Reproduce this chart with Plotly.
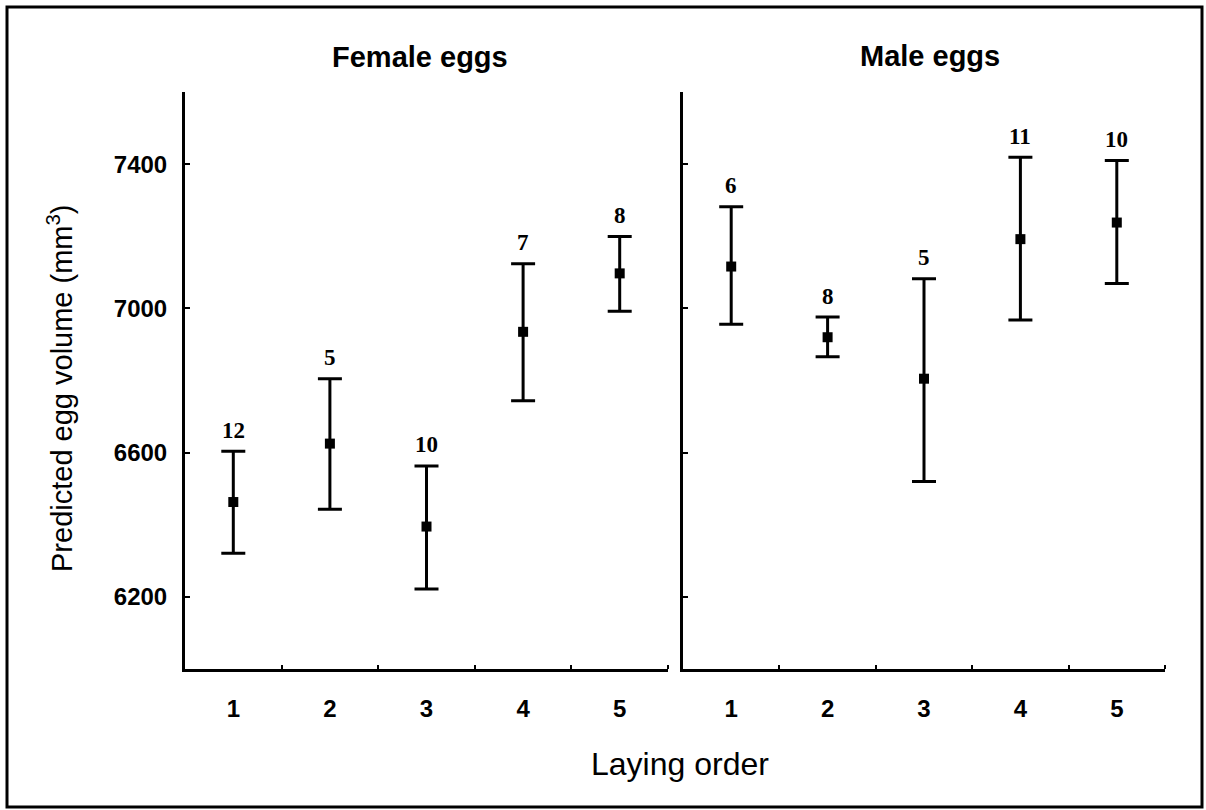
import plotly.graph_objects as go

W, H = 1206, 810

laying_order = [1, 2, 3, 4, 5]
tick_labels = ["1", "2", "3", "4", "5"]

female_mean = [6463, 6625, 6395, 6935, 7097]
female_upper = [6604, 6805, 6563, 7124, 7199]
female_lower = [6321, 6443, 6222, 6744, 6992]
female_n = [12, 5, 10, 7, 8]

male_mean = [7116, 6920, 6805, 7192, 7238]
male_upper = [7282, 6976, 7082, 7419, 7410]
male_lower = [6956, 6866, 6520, 6968, 7069]
male_n = [6, 8, 5, 11, 10]

y_ticks = [6200, 6600, 7000, 7400]
panel_titles = ["Female eggs", "Male eggs"]


def px_x(p):
    return p / W


def px_y(p):
    return (H - p) / H


fig = go.Figure()

panels = [
    ("x", "y", female_mean, female_upper, female_lower, female_n),
    ("x2", "y2", male_mean, male_upper, male_lower, male_n),
]

for xa, ya, mean, up, lo, n in panels:
    fig.add_trace(go.Scatter(
        x=laying_order, y=mean, xaxis=xa, yaxis=ya, mode="markers",
        marker=dict(symbol="square", size=10, color="black"),
        error_y=dict(type="data", symmetric=False,
                     array=[u - m for u, m in zip(up, mean)],
                     arrayminus=[m - l for m, l in zip(mean, lo)],
                     color="black", thickness=3, width=12),
        showlegend=False, hoverinfo="skip",
    ))
    for xi, u, c in zip(laying_order, up, n):
        fig.add_annotation(
            x=xi, y=u, xref=xa, yref=ya, text="<b>%d</b>" % c,
            showarrow=False, yshift=21, xanchor="center", yanchor="middle",
            font=dict(family="Liberation Serif", size=23, color="black"),
        )

axis_common = dict(
    showline=True, linecolor="black", linewidth=3, showgrid=False,
    zeroline=False, mirror=False,
)

xcommon = dict(
    axis_common, range=[0.5, 5.5], tickmode="array", tickvals=laying_order,
    ticktext=tick_labels, ticks="", ticklabelstandoff=16,
    tickfont=dict(family="Liberation Sans", size=24, color="black", weight="bold"),
    minor=dict(tickmode="array", tickvals=[1.5, 2.5, 3.5, 4.5, 5.5],
               ticks="inside", ticklen=4, tickwidth=2, tickcolor="black"),
)
ycommon = dict(
    axis_common, range=[6000, 7600], tickmode="array", tickvals=y_ticks,
    ticks="inside", ticklen=5, tickwidth=2, tickcolor="black",
    tickfont=dict(family="Liberation Sans", size=24, color="black", weight="bold"),
    ticklabelstandoff=10,
)

ydom = [px_y(669), px_y(92)]
fig.update_layout(
    width=W, height=H, margin=dict(l=0, r=0, t=0, b=0),
    paper_bgcolor="white", plot_bgcolor="white",
    xaxis=dict(xcommon, domain=[px_x(185), px_x(668)], anchor="y"),
    xaxis2=dict(xcommon, domain=[px_x(683), px_x(1165)], anchor="y2"),
    yaxis=dict(ycommon, domain=ydom, anchor="x",
               ticktext=[str(v) for v in y_ticks]),
    yaxis2=dict(ycommon, domain=ydom, anchor="x2", showticklabels=False),
)

# panel titles
for t, cx, cy in zip(panel_titles, [420, 930], [57, 56]):
    fig.add_annotation(x=px_x(cx), y=px_y(cy), xref="paper", yref="paper",
                       text="<b>%s</b>" % t, showarrow=False,
                       xanchor="center", yanchor="middle",
                       font=dict(family="Liberation Sans", size=29, color="black"))

# axis titles
fig.add_annotation(x=px_x(680), y=px_y(764), xref="paper", yref="paper",
                   text="Laying order", showarrow=False,
                   xanchor="center", yanchor="middle",
                   font=dict(family="Liberation Sans", size=32, color="black"))
fig.add_annotation(x=px_x(60), y=px_y(389), xref="paper", yref="paper",
                   text="Predicted egg volume (mm<sup>3</sup>)", showarrow=False,
                   textangle=-90, xanchor="center", yanchor="middle",
                   font=dict(family="Liberation Sans", size=29, color="black"))

# outer frame
fig.add_shape(type="rect", xref="paper", yref="paper",
              x0=px_x(7), x1=px_x(1202), y0=px_y(807), y1=px_y(7),
              line=dict(color="black", width=3), fillcolor="rgba(0,0,0,0)")

fig.write_html("out.html",
               config={"displayModeBar": False},
               post_script="document.body.style.margin='0';"
                           "document.body.style.overflow='hidden';")
